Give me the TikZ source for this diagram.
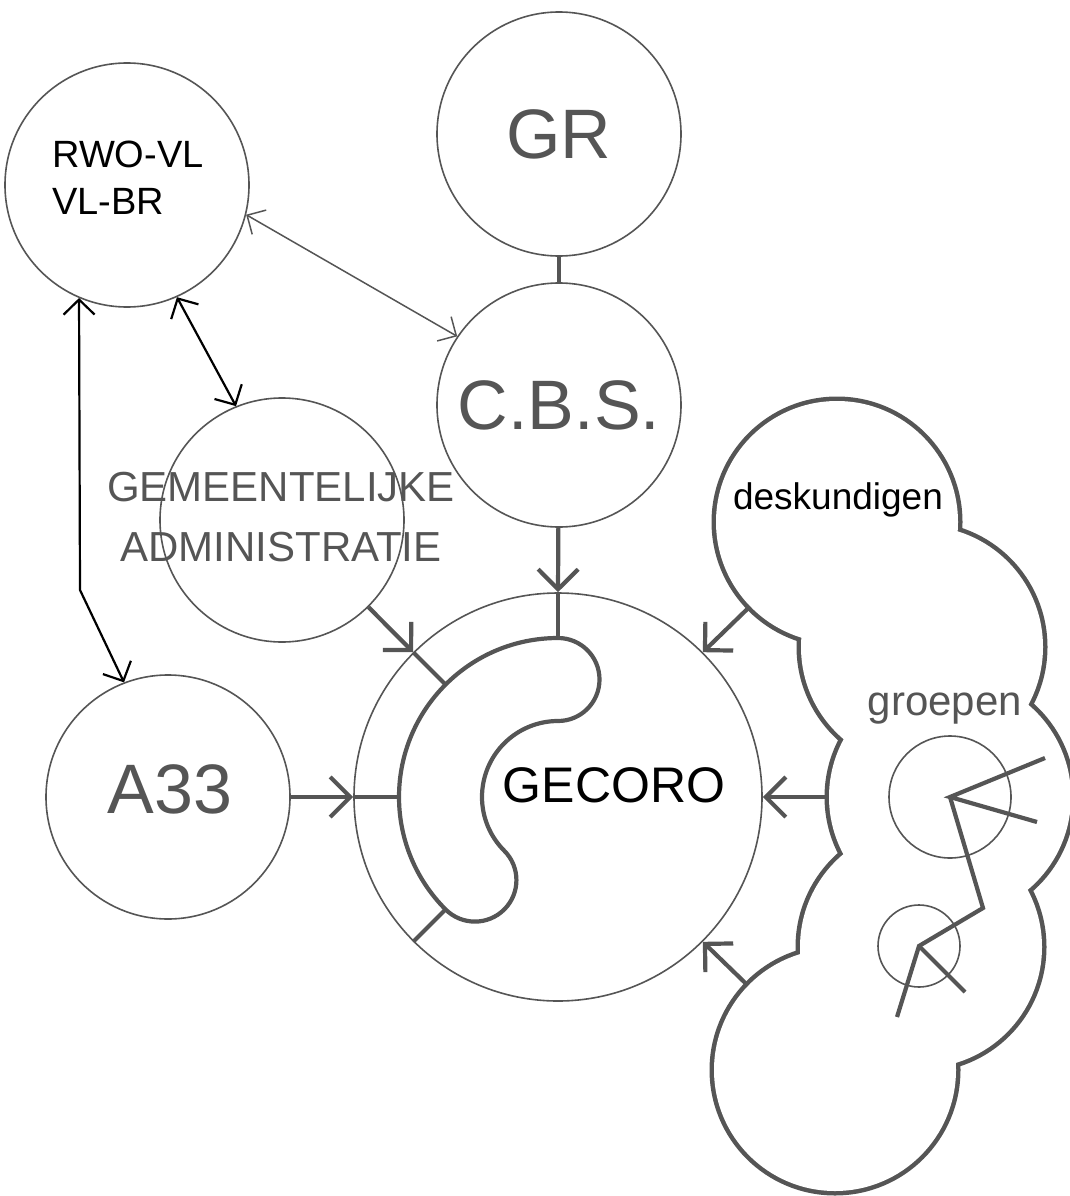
\documentclass[tikz,border=0pt]{standalone}
\usepackage{fontspec}
\setmainfont{Liberation Sans}
\usetikzlibrary{calc,arrows.meta}
\pgfdeclarelayer{background}
\pgfsetlayers{background,main}
\definecolor{ink}{HTML}{555555}
\newcommand{\Rad}{122pt}
\tikzset{Bubble/.style={
    circle,
    inner sep=0pt,
    minimum size=2*\Rad,
    draw=ink,
    line width=1.6pt,
    }
}

\begin{document}
\begin{tikzpicture}[x=1pt, y=1pt,
    big/.style={text=ink, font=\fontsize{70}{84}\selectfont},
    link/.style={draw=ink, line width=4.2pt},
    intip/.style={-{Straight Barb[length=20pt,width=40pt]}},
    both/.style={black, line width=2.2pt,
        {Straight Barb[length=15pt,width=31pt]}-{Straight Barb[length=15pt,width=31pt]}},
    blob/.style={circle, inner sep=0pt, minimum size=242pt, fill=white},
]
\useasboundingbox (0,0) rectangle (1069,-1196);

% the circles on the left and in the middle
\node[Bubble] (rwo) at (127,-185) {};
\node[font=\fontsize{38}{47}\selectfont, align=left] (rwotxt) at (128,-178) {RWO-VL\\VL-BR};
\node[Bubble, big] (gr) at (559,-134) {GR};
\node[Bubble, big] (cbs) at (559,-405) {C.B.S.};
\node[Bubble] (gem) at (282,-520) {};
\node[text=ink, font=\fontsize{42}{60}\selectfont, align=center] (gemtxt) at (281,-517) {GEMEENTELIJKE\\ADMINISTRATIE};
\node[Bubble] (a33) at (168,-797) {};
\node[big, anchor=base] (a33txt) at (170,-813) {A33};
\node[Bubble, minimum size=408pt] (gecoro) at (558,-797) {};
\node[font=\fontsize{50}{60}\selectfont, anchor=base] (gecorotxt) at (614,-802) {GECORO};

% the bean inside GECORO
\coordinate (beanN) at ($(gecoro.center)+(90:159)$);
\coordinate (beanNW) at ($(gecoro.center)+(135:159)$);
\coordinate (beanW) at ($(gecoro.center)+(180:159)$);
\coordinate (beanSW) at ($(gecoro.center)+(225:159)$);
\draw[link] (beanN) arc[start angle=90, end angle=225, radius=159pt]
    arc[start angle=225, end angle=405, radius=41.5pt]
    arc[start angle=225, end angle=90, radius=76pt]
    arc[start angle=270, end angle=450, radius=41.5pt] -- cycle;

% the cloud
\foreach \n/\x/\y in {cA/837/522, cB/922/647, cC/950/797, cD/921/947, cE/835/1070}
    \node[blob] (\n) at (\x,-\y) {};
\begin{pgfonlayer}{background}
\foreach \n in {cA,cB,cC,cD,cE}
    \draw[ink, line width=9pt] (\n) circle (121pt);
\end{pgfonlayer}
\node[font=\fontsize{37}{44}\selectfont, anchor=base] (desk) at (838,-509) {deskundigen};
\node[text=ink, font=\fontsize{42}{50}\selectfont, anchor=base] (groep) at (945,-715) {groepen};

% the groups
\node[circle, draw=ink, line width=1.6pt, inner sep=0pt, minimum size=122pt] (g1) at (950,-797) {};
\node[circle, draw=ink, line width=1.6pt, inner sep=0pt, minimum size=82pt] (g2) at (919,-946) {};
\coordinate (s1) at (1045,-758);
\coordinate (s2) at (1037,-822);
\coordinate (knee) at (983,-908);
\coordinate (s3) at (897,-1017);
\coordinate (s4) at (965,-992);
\draw[link] (s1) -- (g1.center) -- (s2);
\draw[link] (g1.center) -- (knee) -- (g2.center) -- (s3);
\draw[link] (g2.center) -- (s4);

% links into GECORO
\draw[ink, line width=3.5pt] (gr) -- (cbs);
\draw[link, intip] (cbs) -- (gecoro.90);
\draw[link] (gecoro.90) -- (beanN);
\draw[link, intip] (gem) -- (gecoro.135);
\draw[link] (gecoro.135) -- (beanNW);
\draw[link, intip] (a33) -- (gecoro.180);
\draw[link] (gecoro.180) -- (beanW);
\draw[link] (gecoro.225) -- (beanSW);
\draw[link, intip] (cA) -- (gecoro.45);
\draw[link, intip] (cC) -- (gecoro.0);
\draw[link, intip] (cE) -- (gecoro.-45);

% links from RWO-VL
\coordinate (bendA) at (80,-590);
\draw[both] (rwo.247) -- (bendA) -- (a33.111);
\draw[both] (rwo.-66) -- (gem.112);
\draw[ink, line width=1.5pt,
    {Straight Barb[length=14pt,width=28pt]}-{Straight Barb[length=14pt,width=28pt]}]
    (rwo.-14) -- (cbs.146);
\end{tikzpicture}
\end{document}
